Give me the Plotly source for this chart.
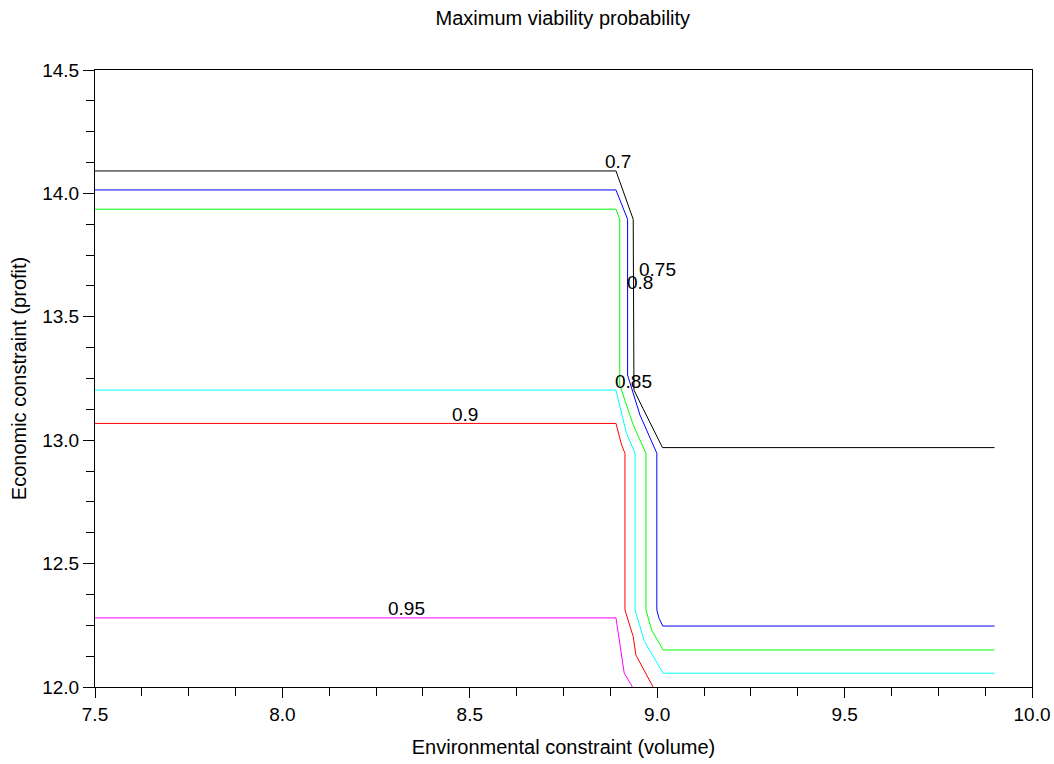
import plotly.graph_objects as go

levels = [0.7, 0.75, 0.8, 0.85, 0.9, 0.95]
colors = ["#000000", "#0000ff", "#00ff00", "#00ffff", "#ff0000", "#ff00ff"]

x_07 = [7.5, 8.890, 8.936, 8.938, 8.962, 9.014, 9.9]
y_07 = [14.091, 14.091, 13.895, 13.203, 13.129, 12.970, 12.970]

x_075 = [7.5, 8.890, 8.921, 8.921, 8.954, 8.999, 8.999, 9.005, 9.015, 9.9]
y_075 = [14.014, 14.014, 13.895, 13.264, 13.102, 12.947, 12.312, 12.278, 12.247, 12.247]

x_08 = [7.5, 8.890, 8.900, 8.900, 8.936, 8.970, 8.970, 8.985, 9.016, 9.9]
y_08 = [13.936, 13.936, 13.895, 13.224, 13.062, 12.947, 12.312, 12.231, 12.150, 12.150]

x_085 = [7.5, 8.890, 8.918, 8.941, 8.941, 8.966, 9.016, 9.9]
y_085 = [13.203, 13.203, 13.028, 12.947, 12.312, 12.184, 12.056, 12.056]

x_09 = [7.5, 8.890, 8.905, 8.914, 8.914, 8.936, 8.943, 8.989]
y_09 = [13.068, 13.068, 12.981, 12.947, 12.312, 12.204, 12.130, 12.0]

x_095 = [7.5, 8.890, 8.912, 8.934]
y_095 = [12.280, 12.280, 12.056, 12.0]

label_text = ["0.7", "0.75", "0.8", "0.85", "0.9", "0.95"]
label_x = [8.896, 9.0, 8.954, 8.938, 8.487, 8.330]
label_y = [14.131, 13.690, 13.637, 13.236, 13.106, 12.320]

xs = [x_07, x_075, x_08, x_085, x_09, x_095]
ys = [y_07, y_075, y_08, y_085, y_09, y_095]

fig = go.Figure()
for lv, c, xx, yy in zip(levels, colors, xs, ys):
    fig.add_trace(go.Scatter(x=xx, y=yy, mode="lines", name=str(lv),
                             line=dict(color=c, width=1), showlegend=False,
                             hoverinfo="skip"))

for t, lx, ly in zip(label_text, label_x, label_y):
    fig.add_annotation(x=lx, y=ly, text=t, showarrow=False,
                       font=dict(size=19, color="black"))

fig.update_layout(
    width=1054, height=764,
    margin=dict(l=95, r=22, t=70, b=77, autoexpand=False),
    paper_bgcolor="white", plot_bgcolor="white",
    font=dict(family="Liberation Sans, Arial, sans-serif", color="black"),
    title=dict(text="Maximum viability probability", x=0.534, xanchor="center",
               y=0.976, yanchor="middle", font=dict(size=20)),
)
fig.update_xaxes(range=[7.5, 10.0], dtick=0.5, tick0=7.5, tickformat=".1f",
                 ticks="outside", ticklen=10, tickcolor="black", automargin=False,
                 showline=True, linecolor="black", mirror=True, showgrid=False,
                 zeroline=False, tickfont=dict(size=19),
                 minor=dict(dtick=0.125, tick0=7.5, ticks="outside", ticklen=8, tickcolor="black"),
                 title=dict(text="Environmental constraint (volume)", font=dict(size=20), standoff=16))
fig.update_yaxes(range=[12.0, 14.5], dtick=0.5, tick0=12.0, tickformat=".1f",
                 ticks="outside", ticklen=11, tickcolor="black", automargin=False,
                 showline=True, linecolor="black", mirror=True, showgrid=False,
                 zeroline=False, tickfont=dict(size=19),
                 minor=dict(dtick=0.125, tick0=12.0, ticks="outside", ticklen=8, tickcolor="black"),
                 title=dict(text="Economic constraint (profit)", font=dict(size=20), standoff=10))

fig.write_html("out.html")
